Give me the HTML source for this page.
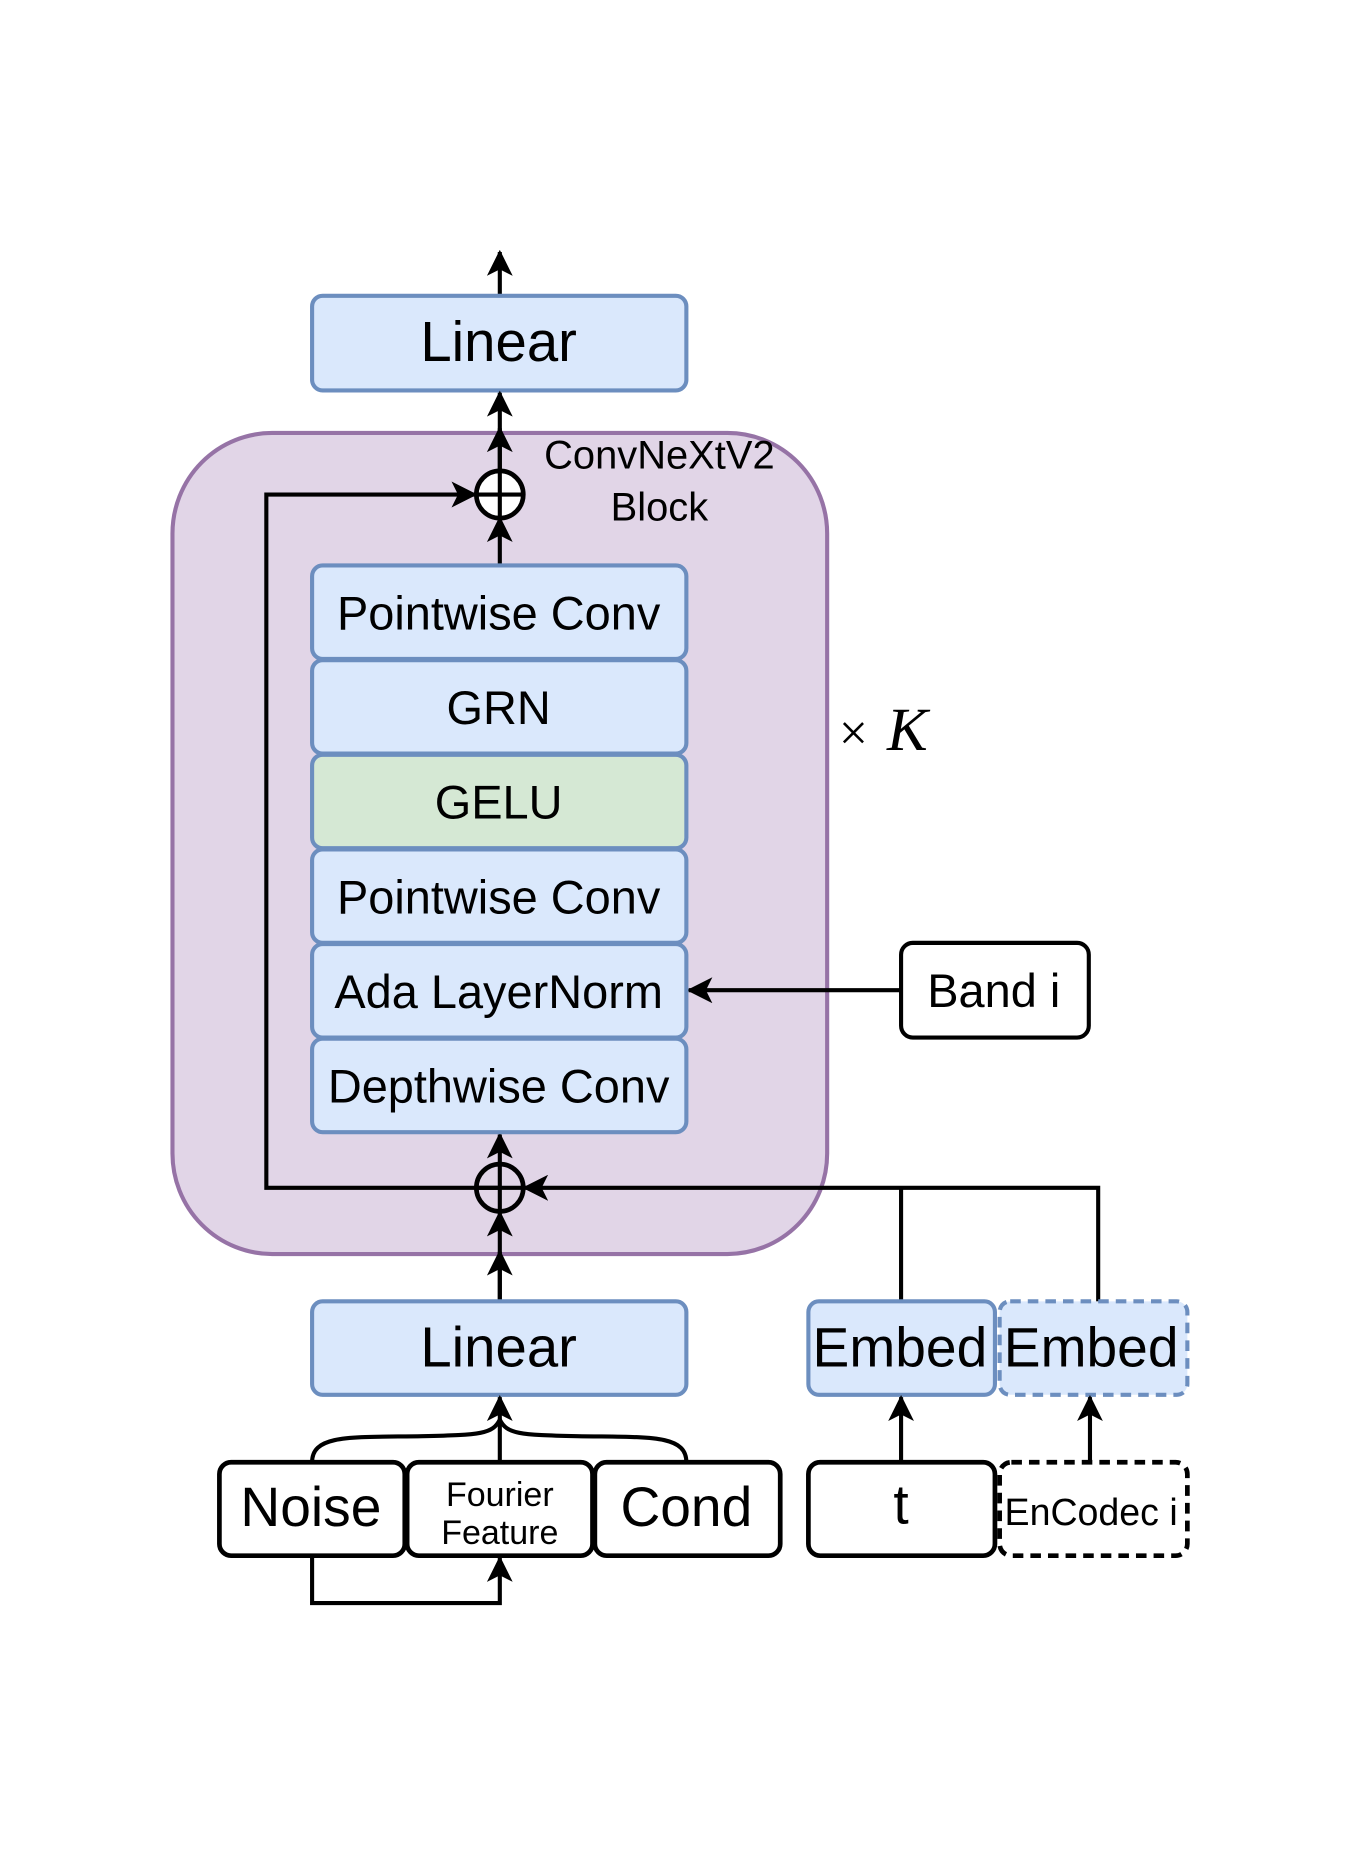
<!DOCTYPE html>
<html><head><meta charset="utf-8"><style>
html,body{margin:0;padding:0;background:#fff;}
svg{display:block;}
text{font-family:"Liberation Sans",sans-serif;fill:#000;}
</style></head><body>
<svg width="1361" height="1855" viewBox="0 0 1160 1568" preserveAspectRatio="none" xmlns="http://www.w3.org/2000/svg">
<defs>
<marker id="b" viewBox="0 0 12 12" refX="11" refY="6" markerWidth="22" markerHeight="22" orient="auto" markerUnits="userSpaceOnUse">
<path d="M0,0 L12,6 L0,12 L3,6 z" fill="#000"/></marker>
</defs>
<g stroke="#000" stroke-width="3.5" fill="none">
<line x1="426" y1="250" x2="426" y2="213" marker-end="url(#b)"/>
</g>
<rect x="266" y="250" width="319" height="80" rx="9" fill="#dae8fc" stroke="#6c8ebf" stroke-width="3.5"/>
<text x="425" y="305" font-size="48" text-anchor="middle">Linear</text>
<rect x="147" y="366" width="558" height="694" rx="85" fill="#e1d5e7" stroke="#9673a6" stroke-width="3.5"/>
<text x="562" y="396" font-size="34" text-anchor="middle">ConvNeXtV2</text>
<text x="562" y="440" font-size="34" text-anchor="middle">Block</text>
<g stroke="#000" stroke-width="3.5" fill="none">
<line x1="426" y1="398" x2="426" y2="332" marker-end="url(#b)"/>
<line x1="426" y1="398" x2="426" y2="362" marker-end="url(#b)"/>
<line x1="426" y1="478" x2="426" y2="438" marker-end="url(#b)"/>
<polyline points="426,1004 227,1004 227,418 405,418" marker-end="url(#b)"/>
<line x1="426" y1="1100" x2="426" y2="1025" marker-end="url(#b)"/>
<line x1="426" y1="1100" x2="426" y2="1058" marker-end="url(#b)"/>
<line x1="426" y1="984" x2="426" y2="959" marker-end="url(#b)"/>
<polyline points="936,1100 936,1004 447,1004" marker-end="url(#b)"/>
<line x1="768" y1="1100" x2="768" y2="1004"/>
<line x1="768" y1="837" x2="587" y2="837" marker-end="url(#b)"/>
</g>
<circle cx="426" cy="418" r="20" fill="#fff" stroke="#000" stroke-width="4"/>
<line x1="406" y1="418" x2="446" y2="418" stroke="#000" stroke-width="3.5"/>
<line x1="426" y1="398" x2="426" y2="438" stroke="#000" stroke-width="3.5"/>
<circle cx="426" cy="1004" r="20" fill="none" stroke="#000" stroke-width="4"/>
<line x1="406" y1="1004" x2="446" y2="1004" stroke="#000" stroke-width="3.5"/>
<line x1="426" y1="984" x2="426" y2="1024" stroke="#000" stroke-width="3.5"/>
<g stroke="#6c8ebf" stroke-width="3.5">
<rect x="266" y="478" width="319" height="79" rx="9" fill="#dae8fc"/>
<rect x="266" y="558" width="319" height="79" rx="9" fill="#dae8fc"/>
<rect x="266" y="638" width="319" height="79" rx="9" fill="#d5e8d4"/>
<rect x="266" y="718" width="319" height="79" rx="9" fill="#dae8fc"/>
<rect x="266" y="798" width="319" height="79" rx="9" fill="#dae8fc"/>
<rect x="266" y="878" width="319" height="79" rx="9" fill="#dae8fc"/>
</g>
<g font-size="40" text-anchor="middle">
<text x="425" y="532">Pointwise Conv</text>
<text x="425" y="612">GRN</text>
<text x="425" y="692">GELU</text>
<text x="425" y="772">Pointwise Conv</text>
<text x="425" y="852">Ada LayerNorm</text>
<text x="425" y="932">Depthwise Conv</text>
</g>
<text x="715" y="634" style="font-family:'Liberation Serif',serif;font-size:44px">×</text>
<text x="756" y="634" style="font-family:'Liberation Serif',serif;font-size:52px;font-style:italic">K</text>
<rect x="768" y="797" width="160" height="80" rx="10" fill="#fff" stroke="#000" stroke-width="3.5"/>
<text x="847" y="851" font-size="40" text-anchor="middle">Band i</text>
<rect x="266" y="1100" width="319" height="79" rx="9" fill="#dae8fc" stroke="#6c8ebf" stroke-width="3.5"/>
<text x="425" y="1155" font-size="48" text-anchor="middle">Linear</text>
<rect x="689" y="1100" width="159" height="79" rx="9" fill="#dae8fc" stroke="#6c8ebf" stroke-width="3.5"/>
<rect x="852" y="1100" width="160" height="79" rx="9" fill="#dae8fc" stroke="#6c8ebf" stroke-width="3.5" stroke-dasharray="9,6"/>
<text x="767" y="1155" font-size="47" text-anchor="middle">Embed</text>
<text x="930" y="1155" font-size="47" text-anchor="middle">Embed</text>
<g stroke="#000" stroke-width="3.5" fill="none">
<line x1="768" y1="1236" x2="768" y2="1181" marker-end="url(#b)"/>
<line x1="929" y1="1236" x2="929" y2="1181" marker-end="url(#b)"/>
<line x1="426" y1="1236" x2="426" y2="1181" marker-end="url(#b)"/>
<path d="M266,1236 C266,1212 300,1215 360,1214 C410,1213 420,1212 426,1200 C432,1212 442,1213 492,1214 C552,1215 585,1212 585,1236"/>
<polyline points="266,1315 266,1355 426,1355 426,1317" marker-end="url(#b)"/>
</g>
<g stroke="#000" stroke-width="4" fill="#fff">
<rect x="187" y="1236" width="158" height="79" rx="10"/>
<rect x="347" y="1236" width="158" height="79" rx="10"/>
<rect x="507" y="1236" width="158" height="79" rx="10"/>
<rect x="689" y="1236" width="159" height="79" rx="10"/>
<rect x="852" y="1236" width="160" height="79" rx="10" stroke-dasharray="9,6"/>
</g>
<text x="265" y="1290" font-size="47" text-anchor="middle">Noise</text>
<text x="426" y="1273" font-size="29" text-anchor="middle">Fourier</text>
<text x="426" y="1305" font-size="29" text-anchor="middle">Feature</text>
<text x="585" y="1290" font-size="47" text-anchor="middle">Cond</text>
<text x="768" y="1288" font-size="47" text-anchor="middle">t</text>
<text x="930" y="1289" font-size="32" text-anchor="middle">EnCodec i</text>
</svg>
</body></html>
